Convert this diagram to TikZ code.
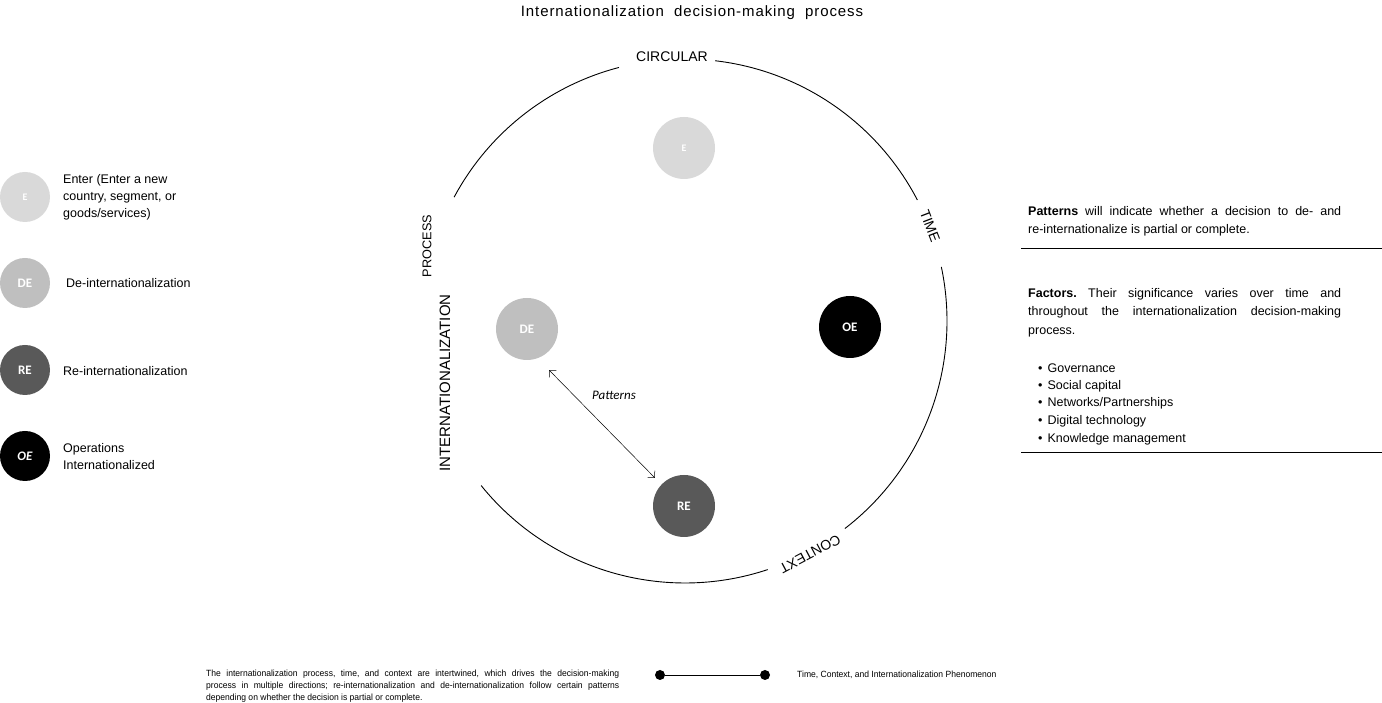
\documentclass[tikz,border=0pt]{standalone}
\usepackage{fontspec}
\setmainfont{Liberation Sans}
\newfontfamily\calfont{Carlito}
\newfontfamily\narrowfont[FakeStretch=0.95]{Liberation Sans}
\newfontfamily\titlefont[LetterSpace=6]{Liberation Sans}
\usepackage{tikz}
\usetikzlibrary{arrows.meta}

\definecolor{lightdisk}{HTML}{D9D9D9}
\definecolor{middisk}{HTML}{BFBFBF}
\definecolor{darkdisk}{HTML}{595959}

\begin{document}
\frenchspacing
\begin{tikzpicture}[x=1pt,y=1pt,
	disk/.style={circle,minimum size=62pt,inner sep=0pt,text=white,font=\calfont\bfseries\fontsize{13}{13}\selectfont},
	keydisk/.style={disk,minimum size=50pt},
	keytext/.style={anchor=west,align=left,inner sep=0pt,font=\fontsize{12.5}{17}\selectfont},
	ringlabel/.style={inner sep=0pt,font=\fontsize{14}{14}\selectfont},
	ring/.style={line width=0.9pt},
	panel/.style={anchor=north west,inner sep=0pt,text width=313pt,align=justify,font=\fontsize{12.5}{18.5}\selectfont},
	factor/.style={anchor=west,inner sep=0pt,font=\fontsize{12.5}{12.5}\selectfont},
	note/.style={inner sep=0pt,font=\narrowfont\fontsize{9}{11.7}\selectfont},
	dot/.style={circle,fill=black,inner sep=0pt,minimum size=10pt},
	]
	\useasboundingbox (0,0) rectangle (1382,703);
	
	\node[font=\titlefont\fontsize{15}{15}\selectfont] (title) at (692,690) {Internationalization~~decision-making~~process};
	
	% the ring, broken where its labels sit
	\coordinate (c) at (685,382);
	\draw[ring] (c) ++(83.4:262) arc[start angle=83.4,end angle=27.5,radius=262];
	\draw[ring] (c) ++(11.9:262) arc[start angle=11.9,end angle=-52.4,radius=262];
	\draw[ring] (c) ++(-71.6:262) arc[start angle=-71.6,end angle=-141.1,radius=262];
	\draw[ring] (c) ++(151.8:262) arc[start angle=151.8,end angle=104.6,radius=262];
	
	\node[ringlabel] (circ) at (672,646) {CIRCULAR};
	\node[ringlabel,rotate=-69] (time) at (930,477) {TIME};
	\node[ringlabel,rotate=208] (ctx) at (810,149) {CONTEXT};
	\node[ringlabel,rotate=90,font=\fontsize{12.7}{12.7}\selectfont] (proc) at (427,457) {PROCESS};
	\node[ringlabel,rotate=90,font=\fontsize{15}{15}\selectfont] (intl) at (445,320) {INTERNATIONALIZATION};
	
	\node[disk,fill=lightdisk,font=\calfont\bfseries\fontsize{10}{10}\selectfont] (E) at (684,555) {E};
	\node[disk,fill=middisk] (DE) at (527,374) {DE};
	\node[disk,fill=black] (OE) at (850,376) {OE};
	\node[disk,fill=darkdisk] (RE) at (684,197) {RE};
	
	\draw[{Straight Barb[length=5pt]}-{Straight Barb[length=5pt]},line width=0.5pt] ([yshift=-19pt]DE.south east) -- ([shift={(-7pt,6pt)}]RE.north west);
	\node[font=\calfont\itshape\fontsize{13}{13}\selectfont] (pat) at (614,308) {Patterns};
	
	% key on the left
	\node[keydisk,fill=lightdisk,font=\calfont\bfseries\fontsize{10}{10}\selectfont] (kE) at (25,506) {E};
	\node[keydisk,fill=middisk] (kDE) at (25,420) {DE};
	\node[keydisk,fill=darkdisk] (kRE) at (25,333) {RE};
	\node[keydisk,fill=black,font=\calfont\bfseries\itshape\fontsize{13}{13}\selectfont] (kOE) at (25,247) {OE};
	\node[keytext] (tE) at (63,506) {Enter (Enter a new\\country, segment, or\\goods/services)};
	\node[keytext] (tDE) at (66,420) {De-internationalization};
	\node[keytext] (tRE) at (63,332) {Re-internationalization};
	\node[keytext] (tOE) at (63,246) {Operations\\Internationalized};
	
	% panel on the right
	\node[panel] (pnote) at (1028,497) {\textbf{Patterns} will indicate whether a decision to de- and\linebreak re-internationalize is partial or complete.};
	\draw[line width=0.9pt] (1021,455) -- (1382,455);
	\node[panel] (fnote) at (1028,415) {\textbf{Factors.} Their significance varies over time and\linebreak throughout the internationalization decision-making\linebreak process.};
	\foreach \f [count=\i] in {Governance,Social capital,Networks/Partnerships,Digital technology,Knowledge  management}
		\node[factor] (f\i) at (1038,{334.5-(\i-1)*17.6}) {\textbullet\hspace{5pt}\f};
	\draw[line width=0.9pt] (1021,251) -- (1382,251);
	
	% bottom line
	\node[note,anchor=north west,text width=413pt,align=justify] (sum) at (206,33) {The internationalization process, time, and context are intertwined, which drives the decision-making\linebreak process in multiple directions; re-internationalization and de-internationalization follow certain patterns\linebreak depending on whether the decision is partial or complete.};
	\node[dot] (d1) at (660,28) {};
	\node[dot] (d2) at (765,28) {};
	\draw[line width=0.7pt] (d1) -- (d2);
	\node[note,anchor=west] (phen) at (797,28) {Time, Context, and Internationalization Phenomenon};
	
\end{tikzpicture}
\end{document}
